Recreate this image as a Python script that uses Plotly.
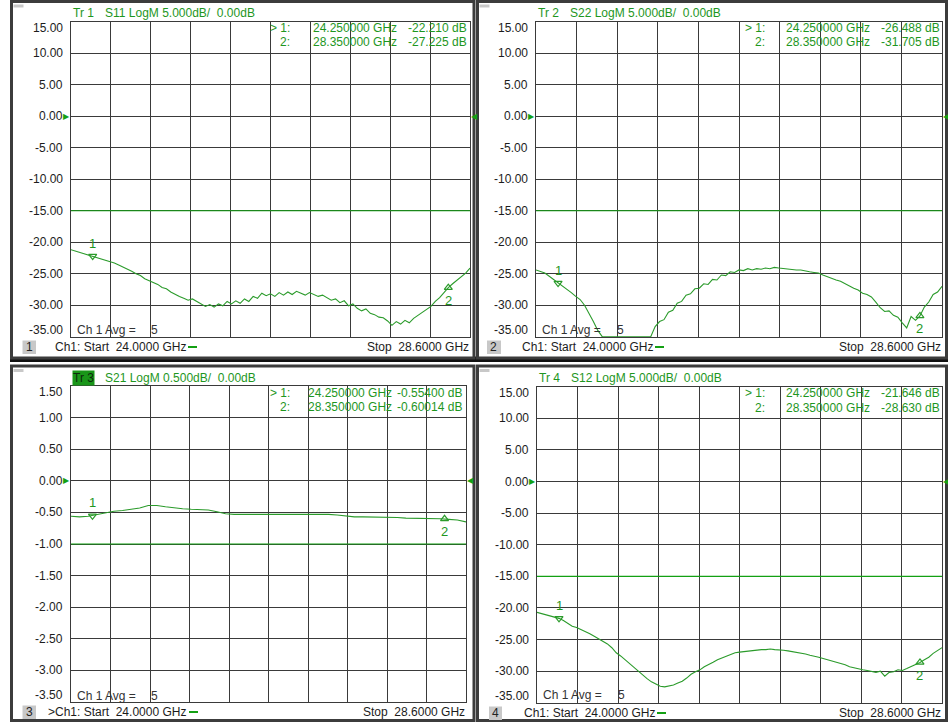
import numpy as np
import plotly.graph_objects as go

W, H = 948, 722
START_GHZ, STOP_GHZ = 24.0, 28.6

# ---------------- data ----------------
s11_db = [-21.2, -21.4, -21.6, -21.8, -22.0, -22.21, -22.4, -22.6, -22.8, -23.0,
          -23.3, -23.6, -23.9, -24.2, -24.6, -25.0, -25.3, -25.8, -26.1, -26.5,
          -26.7, -27.2, -27.4, -27.9, -28.3, -28.6, -28.9, -29.2, -29.0, -29.4,
          -29.7, -30.2, -29.9, -30.3, -29.8, -30.1, -29.4, -29.8, -29.3, -29.7,
          -29.0, -29.4, -28.6, -28.9, -28.1, -28.5, -28.2, -28.6, -28.0, -28.4,
          -27.9, -28.3, -27.8, -28.1, -28.4, -28.0, -28.3, -28.6, -28.4, -28.8,
          -29.2, -29.0, -29.6, -29.3, -30.1, -29.8, -30.5, -30.9, -30.6, -31.3,
          -31.5, -31.9, -32.0, -32.5, -33.2, -32.6, -33.0, -32.4, -32.8, -32.1,
          -31.6, -31.2, -30.6, -30.2, -29.4, -28.8, -28.0, -27.2, -26.6, -26.0,
          -25.4, -24.9, -24.1]

s22_db = [-24.4, -24.6, -24.9, -25.4, -25.9, -26.49, -26.9, -27.5, -28.0, -28.6,
          -29.1, -30.0, -31.2, -32.6, -34.0,
          -35.0, -35.0, -35.0, -35.0, -35.0, -35.0, -35.0, -35.0, -35.0, -35.0, -35.0, -35.0,
          -33.4, -32.6, -32.3, -31.1, -30.8, -29.7, -29.4, -28.4, -28.2, -27.4,
          -27.3, -26.6, -26.7, -25.9, -26.0, -25.2, -25.3, -24.7, -24.8, -24.4,
          -24.5, -24.2, -24.4, -24.2, -24.3, -24.1, -24.2, -24.0, -24.1, -24.2,
          -24.2, -24.3, -24.4, -24.4, -24.6, -24.7, -24.8, -24.9, -25.2, -25.5,
          -25.7, -26.0, -26.2, -26.6, -27.0, -27.3, -27.6, -28.1, -28.3, -28.7,
          -29.5, -30.4, -31.0, -30.9, -31.6, -31.9, -32.8, -33.6, -31.8, -32.4,
          -31.7, -30.3, -29.5, -28.3, -27.9, -27.0]

s21_db = [-0.56, -0.57, -0.56, -0.53, -0.50, -0.48, -0.47, -0.45, -0.43, -0.39,
          -0.39, -0.41, -0.43, -0.44, -0.45, -0.45, -0.46, -0.49, -0.52, -0.53,
          -0.53, -0.53, -0.53, -0.53, -0.53, -0.53, -0.53, -0.52, -0.53, -0.53,
          -0.53, -0.54, -0.56, -0.57, -0.57, -0.57, -0.57, -0.58, -0.58, -0.59,
          -0.59, -0.59, -0.60, -0.60, -0.61, -0.62, -0.65]

s12_db = [-20.7, -20.9, -21.0, -21.2, -21.4, -21.65, -22.0, -22.5, -22.9, -23.1,
          -23.4, -23.7, -24.1, -24.5, -24.9, -25.3, -25.7, -26.3, -27.1, -27.6,
          -28.2, -28.8, -29.5, -30.1, -30.6, -31.2, -31.7, -32.1, -32.4, -32.5,
          -32.4, -32.2, -31.9, -31.6, -31.1, -30.5, -30.1, -29.8, -29.3, -29.0,
          -28.6, -28.2, -27.9, -27.6, -27.3, -27.1, -27.0, -26.9, -26.8, -26.7,
          -26.7, -26.6, -26.6, -26.5, -26.6, -26.6, -26.7, -26.8, -26.9, -27.0,
          -27.1, -27.3, -27.5, -27.6, -27.8, -28.0, -28.2, -28.3, -28.5, -28.8,
          -29.0, -29.3, -29.5, -29.7, -29.8, -29.9, -30.0, -30.2, -30.0, -30.8,
          -30.2, -30.1, -29.8, -29.9, -29.6, -29.3, -29.0, -28.63, -28.2, -27.8,
          -27.2, -26.8, -26.3]

trace_nums = [1, 2, 3, 4]
param_names = ["S11", "S22", "S21", "S12"]
scale_texts = ["5.000dB/", "5.000dB/", "0.500dB/", "5.000dB/"]
series = [s11_db, s22_db, s21_db, s12_db]

marker_freqs = [24.25, 28.35]
marker_freq_labels = ["24.250000 GHz", "28.350000 GHz"]
marker_vals = [[-22.210, -27.225], [-26.488, -31.705], [-0.55400, -0.60014], [-21.646, -28.630]]
marker_val_labels = [["-22.210 dB", "-27.225 dB"], ["-26.488 dB", "-31.705 dB"],
                     ["-0.55400 dB", "-0.60014 dB"], ["-21.646 dB", "-28.630 dB"]]

ticks_5db = [15, 10, 5, 0, -5, -10, -15, -20, -25, -30, -35]
tick_labels_5db = ["15.00", "10.00", "5.00", "0.00", "-5.00", "-10.00", "-15.00",
                   "-20.00", "-25.00", "-30.00", "-35.00"]
ticks_05db = [1.5, 1.0, 0.5, 0.0, -0.5, -1.0, -1.5, -2.0, -2.5, -3.0, -3.5]
tick_labels_05db = ["1.50", "1.00", "0.50", "0.00", "-0.50", "-1.00", "-1.50",
                    "-2.00", "-2.50", "-3.00", "-3.50"]
limit_vals = [-15.0, -15.0, -1.0, -15.0]
avg_count = "5"

# ---------------- layout geometry (pixels) ----------------
panels = [
    dict(plot=(71, 470, 21.5, 337), frame=(11.5, 474, 1.5, 358), tickx=65,
         rd=(291, 312, 468, 28, 42), hdr=13, foot=347, box=(22.5, 36), ch=54, dash=(188, 197),
         avg=(76, 150, 330), start=""),
    dict(plot=(536, 942, 21.5, 337), frame=(477.5, 946.5, 1.5, 358), tickx=530,
         rd=(766, 785, 941, 28, 42), hdr=13, foot=347, box=(487, 501), ch=521, dash=(655, 664),
         avg=(541, 616, 330), start=""),
    dict(plot=(71, 466, 386, 702), frame=(11.5, 474, 366, 720.5), tickx=65,
         rd=(291, 307, 463, 393, 407), hdr=378, foot=712, box=(22.5, 36), ch=47, dash=(189, 198),
         avg=(76, 150, 696), start=">"),
    dict(plot=(537, 942, 386.5, 703), frame=(477.5, 946.5, 366, 720.5), tickx=531,
         rd=(766, 785, 941, 393, 408), hdr=378, foot=713, box=(489, 502), ch=523, dash=(657, 666),
         avg=(542, 617, 695), start=""),
]

GREEN_TXT = "#1e961e"
GREEN_TR = "#2b9b2b"
GREEN_LIM = "#13a013"
GRID = "#3a3a3a"
LBL = "#1c1c1c"
FONT = "Liberation Sans, Arial, sans-serif"

fig = go.Figure()
shapes, anns = [], []


def px(x):
    return x / W


def py(y):
    return 1 - y / H


def text(t, x, y, anchor="left", color=LBL, size=12, bg=None):
    anns.append(dict(text=t, x=px(x), y=py(y), xref="paper", yref="paper",
                     xanchor=anchor, yanchor="middle", showarrow=False,
                     font=dict(family=FONT, size=size, color=color),
                     bgcolor=bg, borderpad=0))


# frames / separators
shapes.append(dict(type="rect", xref="paper", yref="paper", x0=px(10), x1=px(948),
                   y0=py(356.5), y1=py(362), fillcolor="#111111", line=dict(width=0), layer="below"))
for p in panels:
    fx0, fx1, fy0, fy1 = p["frame"]
    shapes.append(dict(type="rect", xref="paper", yref="paper", x0=px(fx0), x1=px(fx1),
                       y0=py(fy1), y1=py(fy0), fillcolor="white",
                       line=dict(color="#3c3c3c", width=3), layer="below"))
    shapes.append(dict(type="rect", xref="paper", yref="paper", x0=px(fx0 + 2), x1=px(fx0 + 12),
                       y0=py(fy0 + 6), y1=py(fy0 + 3), fillcolor="#c8c8c8",
                       line=dict(width=0), layer="below"))

layout_axes = {}
for i, (p, vals) in enumerate(zip(panels, series)):
    n = i + 1
    xs = "" if n == 1 else str(n)
    x0, x1, y0, y1 = p["plot"]
    fine = n == 3
    ticks = ticks_05db if fine else ticks_5db
    labels = tick_labels_05db if fine else tick_labels_5db
    ymax, ymin = ticks[0], ticks[-1]
    pad = (ymax - ymin) * 0.001

    layout_axes[f"xaxis{xs}"] = dict(
        domain=[px(x0), px(x1)], anchor=f"y{xs}", range=[START_GHZ, STOP_GHZ],
        tickvals=[START_GHZ + k * (STOP_GHZ - START_GHZ) / 10 for k in range(1, 10)],
        showticklabels=False, ticks="", showgrid=True, gridcolor=GRID, gridwidth=1,
        zeroline=False, showline=True, linecolor=GRID, linewidth=1, mirror=True, fixedrange=True)
    layout_axes[f"yaxis{xs}"] = dict(
        domain=[py(y1), py(y0)], anchor=f"x{xs}", range=[ymin - pad, ymax + pad],
        tickvals=ticks[1:-1], showticklabels=False, ticks="", showgrid=True,
        gridcolor=GRID, gridwidth=1, zeroline=False, showline=True, linecolor=GRID,
        linewidth=1, mirror=True, fixedrange=True)

    freqs = np.linspace(START_GHZ, STOP_GHZ, len(vals))
    fig.add_trace(go.Scatter(x=freqs, y=vals, mode="lines", xaxis=f"x{xs}", yaxis=f"y{xs}",
                             line=dict(color=GREEN_TR, width=1.1), showlegend=False,
                             hoverinfo="skip"))

    # limit line
    shapes.append(dict(type="line", xref=f"x{xs} domain", yref=f"y{xs}", x0=0, x1=1,
                       y0=limit_vals[i], y1=limit_vals[i], line=dict(color=GREEN_LIM, width=1.2)))

    # marker symbols
    fig.add_trace(go.Scatter(x=[marker_freqs[0]], y=[marker_vals[i][0]], mode="markers",
                             xaxis=f"x{xs}", yaxis=f"y{xs}", showlegend=False, hoverinfo="skip",
                             marker=dict(symbol="triangle-down-open", size=7,
                                         color=GREEN_TR, line=dict(width=1.2, color=GREEN_TR))))
    fig.add_trace(go.Scatter(x=[marker_freqs[1]], y=[marker_vals[i][1]], mode="markers",
                             xaxis=f"x{xs}", yaxis=f"y{xs}", showlegend=False, hoverinfo="skip",
                             marker=dict(symbol="triangle-up-open", size=7,
                                         color=GREEN_TR, line=dict(width=1.2, color=GREEN_TR))))
    for k, (mf, mv) in enumerate(zip(marker_freqs, marker_vals[i])):
        anns.append(dict(text=str(k + 1), x=mf, y=mv, xref=f"x{xs}", yref=f"y{xs}",
                         showarrow=False, yshift=(13 if k == 0 else -13),
                         font=dict(family=FONT, size=13, color=GREEN_TXT)))

    # tick labels
    for tv, tl in zip(ticks, labels):
        shift = -6 if tv == ymax else (7 if tv == ymin else 0)
        anns.append(dict(text=tl, x=px(p["tickx"]), y=tv, xref="paper", yref=f"y{xs}",
                         xanchor="right", yanchor="middle", yshift=shift, showarrow=False,
                         font=dict(family=FONT, size=12, color=LBL)))

    # reference arrows at 0 dB
    anns.append(dict(text="\u25b6", x=px(x0 + 1), y=0, xref="paper", yref=f"y{xs}",
                     xanchor="right", yanchor="middle", showarrow=False,
                     font=dict(family="DejaVu Sans", size=8, color=GREEN_LIM)))
    anns.append(dict(text="\u25c0", x=px(x1 - 1), y=0, xref="paper", yref=f"y{xs}",
                     xanchor="left", yanchor="middle", showarrow=False,
                     font=dict(family="DejaVu Sans", size=8, color=GREEN_LIM)))

    # header
    hdr_y = p["hdr"]
    if n == 3:
        text(f"Tr {trace_nums[i]}", x0 + 1, hdr_y, color="#0c2a0c", bg="#199619")
    else:
        text(f"Tr {trace_nums[i]}", x0 + 1, hdr_y, color=GREEN_TXT)
    text(f"{param_names[i]} LogM {scale_texts[i]}  0.00dB", x0 + 33, hdr_y, color=GREEN_TXT)

    # marker readout
    rx_num, rx_f, rx_v, ry1, ry2 = p["rd"]
    text("> 1:", rx_num, ry1, anchor="right", color=GREEN_TXT)
    text("2:", rx_num, ry2, anchor="right", color=GREEN_TXT)
    for k, ry in enumerate([ry1, ry2]):
        text(marker_freq_labels[k], rx_f, ry, color=GREEN_TXT)
        text(marker_val_labels[i][k], rx_v, ry, anchor="right", color=GREEN_TXT)

    # averaging text
    ax_, ax5, ay = p["avg"]
    text("Ch 1 Avg =", ax_, ay, color="#333333")
    text(avg_count, ax5, ay, color="#333333")

    # footer
    fy = p["foot"]
    bx0, bx1 = p["box"]
    shapes.append(dict(type="rect", xref="paper", yref="paper", x0=px(bx0), x1=px(bx1),
                       y0=py(fy + 7), y1=py(fy - 6.5), fillcolor="#c8c8c8",
                       line=dict(width=0)))
    text(str(n), (bx0 + bx1) / 2, fy, anchor="center", color="#222222")
    text(f"{p['start']}Ch1: Start  {START_GHZ:.4f} GHz", p["ch"], fy, color=LBL)
    dx0, dx1 = p["dash"]
    shapes.append(dict(type="line", xref="paper", yref="paper", x0=px(dx0), x1=px(dx1),
                       y0=py(fy), y1=py(fy), line=dict(color=GREEN_LIM, width=2)))
    text(f"Stop  {STOP_GHZ:.4f} GHz", x1, fy, anchor="right", color=LBL)

fig.update_layout(
    width=W, height=H, autosize=False, margin=dict(l=0, r=0, t=0, b=0),
    paper_bgcolor="white", plot_bgcolor="rgba(0,0,0,0)",
    shapes=shapes, annotations=anns, showlegend=False,
    font=dict(family=FONT, size=12, color=LBL),
    **layout_axes,
)

fig.write_html("out.html", config=dict(displayModeBar=False),
               post_script="document.body.style.margin='0';document.body.style.overflow='hidden';")
